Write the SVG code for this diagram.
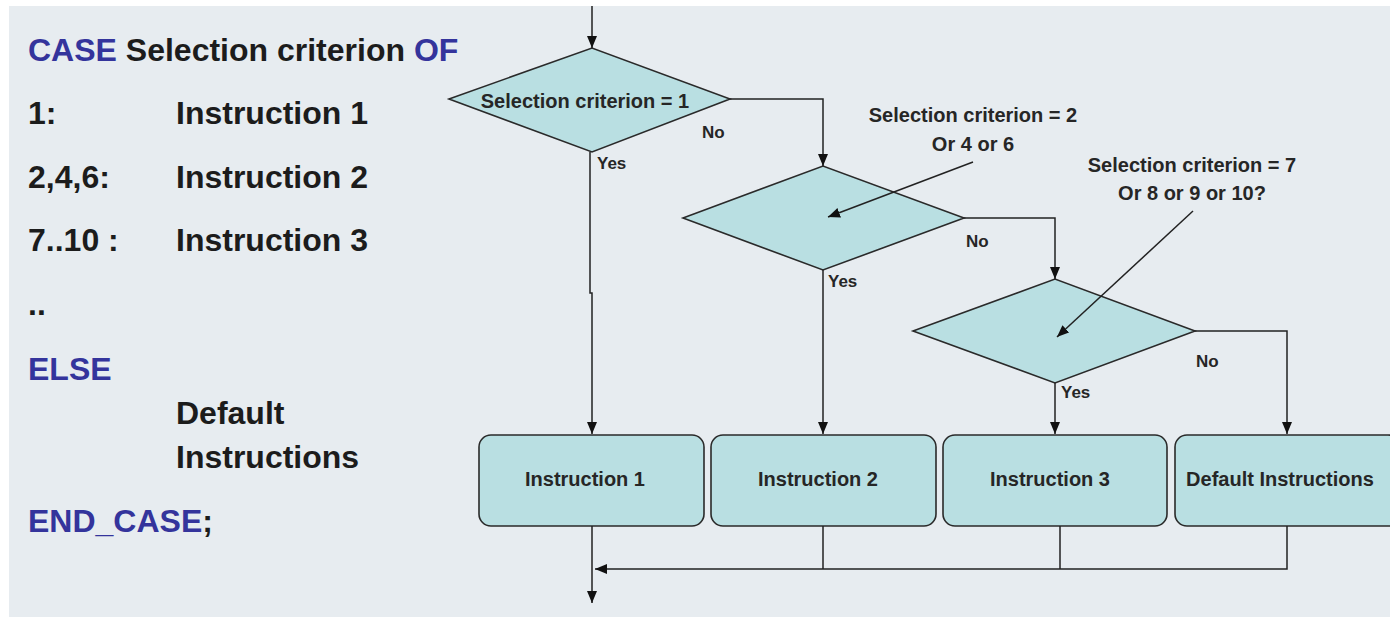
<svg xmlns="http://www.w3.org/2000/svg" width="1390" height="617" viewBox="0 0 1390 617">
<defs>
<style>
.code{font-family:"Liberation Sans",Arial,sans-serif;font-weight:bold;font-size:32px;fill:#1c1c1c}
.kw{fill:#34349c}
.lbl{font-family:"Liberation Sans",Arial,sans-serif;font-weight:bold;font-size:20px;fill:#262626}
.yn{font-family:"Liberation Sans",Arial,sans-serif;font-weight:bold;font-size:17px;fill:#262626}
.shape{fill:#b9dfe2;stroke:#2a2a2a;stroke-width:1.6}
.ln{fill:none;stroke:#222;stroke-width:1.5}
</style>
<marker id="ah" viewBox="0 0 12 10" refX="12" refY="5" markerWidth="12" markerHeight="10" markerUnits="userSpaceOnUse" orient="auto">
<path d="M0,0 L12,5 L0,10 z" fill="#111"/>
</marker>
</defs>
<rect x="9" y="6" width="1381" height="611" fill="#e7ecf0"/>

<g id="code">
<text class="code" x="28" y="61"><tspan class="kw">CASE</tspan> Selection criterion <tspan class="kw">OF</tspan></text>
<text class="code" x="28" y="124">1:</text>
<text class="code" x="176" y="124">Instruction 1</text>
<text class="code" x="28" y="188">2,4,6:</text>
<text class="code" x="176" y="188">Instruction 2</text>
<text class="code" x="28" y="251">7..10 :</text>
<text class="code" x="176" y="251">Instruction 3</text>
<text class="code" x="28" y="315">..</text>
<text class="code kw" x="28" y="380">ELSE</text>
<text class="code" x="176" y="424">Default</text>
<text class="code" x="176" y="468">Instructions</text>
<text class="code" x="28" y="532"><tspan class="kw">END_CASE</tspan>;</text>
</g>

<g id="d1">
<polygon class="shape" points="449,99 592,48 730,99 592,152"/>
<text class="lbl" x="585" y="108" text-anchor="middle">Selection criterion = 1</text>
</g>
<g id="d2">
<polygon class="shape" points="683,218 823,166 964,218 823,270"/>
</g>
<g id="d3">
<polygon class="shape" points="913,331 1055,279 1195,331 1055,383"/>
</g>
<g id="note2">
<text class="lbl" x="973" y="122" text-anchor="middle">Selection criterion = 2</text>
<text class="lbl" x="973" y="151" text-anchor="middle">Or 4 or 6</text>
</g>
<g id="note3">
<text class="lbl" x="1192" y="172" text-anchor="middle">Selection criterion = 7</text>
<text class="lbl" x="1192" y="200" text-anchor="middle">Or 8 or 9 or 10?</text>
</g>

<g id="b1">
<rect class="shape" x="479" y="435" width="225" height="91" rx="12"/>
<text class="lbl" x="585" y="486" text-anchor="middle">Instruction 1</text>
</g>
<g id="b2">
<rect class="shape" x="711" y="435" width="225" height="91" rx="12"/>
<text class="lbl" x="818" y="486" text-anchor="middle">Instruction 2</text>
</g>
<g id="b3">
<rect class="shape" x="943" y="435" width="224" height="91" rx="12"/>
<text class="lbl" x="1050" y="486" text-anchor="middle">Instruction 3</text>
</g>
<g id="b4">
<rect class="shape" x="1175" y="435" width="225" height="91" rx="12"/>
<text class="lbl" x="1280" y="486" text-anchor="middle">Default Instructions</text>
</g>

<g id="connectors">
<path class="ln" d="M592 6 V48" marker-end="url(#ah)"/>
<path class="ln" d="M730 99 H823 V166" marker-end="url(#ah)"/>
<path class="ln" d="M590 152 V293 H592 V434" marker-end="url(#ah)"/>
<path class="ln" d="M964 218 H1055 V279" marker-end="url(#ah)"/>
<path class="ln" d="M823 270 V434" marker-end="url(#ah)"/>
<path class="ln" d="M1195 331 H1287 V434" marker-end="url(#ah)"/>
<path class="ln" d="M1055 383 V434" marker-end="url(#ah)"/>
<path class="ln" d="M973 162 L828 217" marker-end="url(#ah)"/>
<path class="ln" d="M1193 211 L1057 337" marker-end="url(#ah)"/>
<path class="ln" d="M592 526 V603" marker-end="url(#ah)"/>
<path class="ln" d="M823 526 V569"/>
<path class="ln" d="M1060 526 V569"/>
<path class="ln" d="M1287 526 V569 H595" marker-end="url(#ah)"/>
<text class="yn" x="702" y="138">No</text>
<text class="yn" x="597" y="169">Yes</text>
<text class="yn" x="966" y="247">No</text>
<text class="yn" x="828" y="287">Yes</text>
<text class="yn" x="1196" y="367">No</text>
<text class="yn" x="1061" y="398">Yes</text>
</g>
</svg>
